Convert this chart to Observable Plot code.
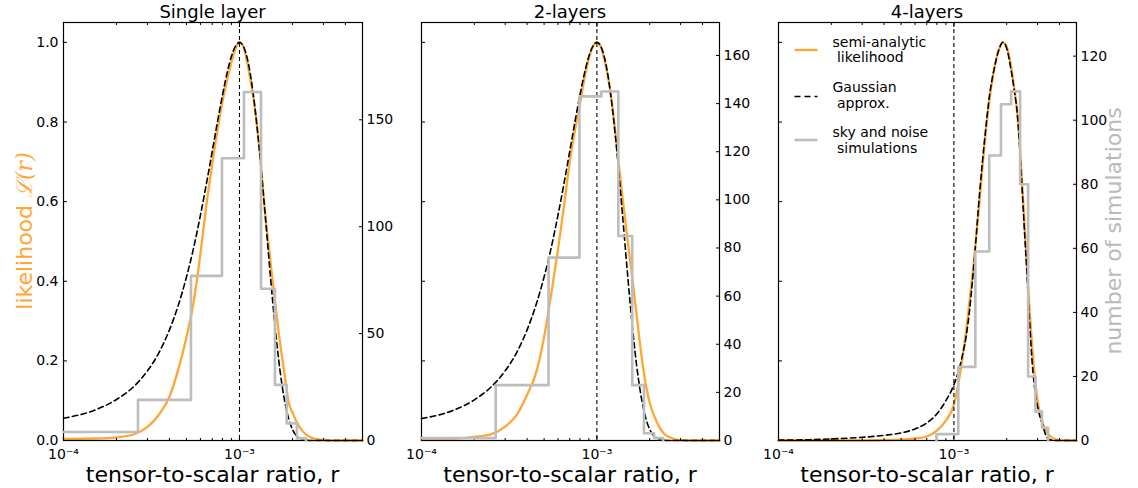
<!DOCTYPE html>
<html><head><meta charset="utf-8">
<script src="https://cdn.jsdelivr.net/npm/d3@7"></script>
<script src="https://cdn.jsdelivr.net/npm/@observablehq/plot@0.6"></script>
<style>
html,body{margin:0;padding:0;background:#fff;}
#chart{position:relative;width:1138px;height:488px;overflow:hidden;font-family:"DejaVu Sans",sans-serif;}
#chart svg{position:absolute;top:0;}
</style></head><body><div id="chart"></div>
<script>
// ---------- data ----------
const titles = ["Single layer", "2-layers", "4-layers"];
const xMajorTicks = [1e-4, 1e-3];
const xMajorLabels = ["10\u207B\u2074", "10\u207B\u00B3"];
const xMinorTicks = [2e-4,3e-4,4e-4,5e-4,6e-4,7e-4,8e-4,9e-4,2e-3,3e-3,4e-3];
const likeTicks = [0, 0.2, 0.4, 0.6, 0.8, 1.0];
const countTicks1 = [0, 50, 100, 150];
const countTicks2 = [0, 20, 40, 60, 80, 100, 120, 140, 160];
const countTicks3 = [0, 20, 40, 60, 80, 100, 120];

// r grid for panels 1 and 2
const rA = [1.0e-4,1.5e-4,2.0e-4,2.5e-4,3.0e-4,3.5e-4,4.0e-4,4.5e-4,5.0e-4,5.5e-4,6.0e-4,6.5e-4,7.0e-4,7.5e-4,8.0e-4,8.5e-4,9.0e-4,9.5e-4,
  1.0e-3,1.05e-3,1.1e-3,1.15e-3,1.2e-3,
  1.3e-3,1.4e-3,1.5e-3,1.6e-3,1.7e-3,1.8e-3,1.9e-3,2.0e-3,
  2.2e-3,2.4e-3,2.6e-3,2.8e-3,3.0e-3,
  3.5e-3,4.0e-3,5.0e-3];
const like1 = [0.004,0.005,0.008,0.015,0.034,0.066,0.11,0.18,0.26,0.35,0.47,0.595,0.695,0.78,0.85,0.905,0.95,0.985,
  1.0,0.99,0.955,0.91,0.86,
  0.73,0.57,0.45,0.34,0.245,0.17,0.097,0.07,
  0.033,0.014,0.006,0.003,0.001,
  0,0,0];
const gauss1 = [0.056,0.076,0.103,0.135,0.175,0.222,0.278,0.341,0.411,0.486,0.566,0.647,0.726,0.801,0.867,0.923,0.965,0.991,
  1.0,0.991,0.965,0.923,0.867,
  0.726,0.566,0.411,0.278,0.175,0.103,0.056,0.028,
  0.006,0.001,0,0,0,
  0,0,0];
const like2 = [0.002,0.004,0.009,0.016,0.035,0.065,0.115,0.17,0.26,0.37,0.48,0.59,0.70,0.78,0.845,0.91,0.96,0.99,
  1.0,0.99,0.96,0.92,0.87,
  0.74,0.61,0.50,0.40,0.30,0.21,0.14,0.095,
  0.045,0.018,0.008,0.003,0.001,
  0,0,0];
const gauss2 = [0.055,0.075,0.102,0.135,0.175,0.222,0.278,0.341,0.411,0.486,0.566,0.647,0.726,0.801,0.867,0.923,0.965,0.991,
  1.0,0.991,0.965,0.923,0.867,
  0.726,0.566,0.411,0.278,0.175,0.103,0.056,0.028,
  0.006,0.001,0,0,0,
  0,0,0];

// r grid for panel 3
const rB = [1.0e-4,1.5e-4,2.0e-4,3.0e-4,4.0e-4,5.0e-4,6.0e-4,7.0e-4,8.0e-4,9.0e-4,
  1.0e-3,1.1e-3,1.2e-3,1.3e-3,1.4e-3,1.5e-3,1.6e-3,1.7e-3,1.8e-3,1.9e-3,
  2.0e-3,2.1e-3,2.2e-3,2.3e-3,2.4e-3,2.5e-3,2.6e-3,2.7e-3,2.8e-3,2.9e-3,
  3.0e-3,3.2e-3,3.4e-3,3.6e-3,3.8e-3,4.0e-3,4.5e-3,5.0e-3];
const like3 = [0,0,0,0,0.001,0.002,0.005,0.01,0.025,0.05,
  0.09,0.185,0.31,0.45,0.60,0.75,0.86,0.935,0.98,1.0,
  0.99,0.95,0.89,0.82,0.71,0.58,0.45,0.33,0.23,0.155,
  0.10,0.045,0.02,0.008,0.003,0.001,0,0];
const gauss3 = [0.001,0.002,0.004,0.008,0.013,0.019,0.029,0.044,0.067,0.10,
  0.14,0.20,0.29,0.44,0.62,0.76,0.87,0.935,0.98,1.0,
  0.985,0.94,0.885,0.82,0.70,0.56,0.43,0.30,0.19,0.125,
  0.085,0.04,0.007,0.001,0,0,0,0];

// histogram bin edges (first edge clipped at the axis start) and counts
const binEdges = [1e-4,2.65e-4,5.30e-4,7.95e-4,1.06e-3,1.325e-3,1.59e-3,1.855e-3,2.12e-3,2.385e-3,2.65e-3,2.915e-3,3.18e-3,3.445e-3,3.71e-3];
const counts1 = [4,19,77,132,163,71,26,8,1,0,0,0,0,0];
const counts2 = [1,23,76,143,145,85,23,3,1,0,0,0,0,0];
const counts3 = [0,0,0,2,23,59,89,105,109,80,20,9,4,0];

// ---------- style ----------
const ORANGE = "#ffa633";
const GRAY = "#bdbdbd";
const H = 488, mT = 22, mB = 48, mL = 63, mR = 60;

const panels = [
  {title: titles[0], r: rA, like: like1, gauss: gauss1, counts: counts1, cMax: 195.5, cTicks: countTicks1, left: 63, w: 299, yLabels: true},
  {title: titles[1], r: rA, like: like2, gauss: gauss2, counts: counts2, cMax: 173.7, cTicks: countTicks2, left: 421, w: 298, yLabels: false},
  {title: titles[2], r: rB, like: like3, gauss: gauss3, counts: counts3, cMax: 130.5, cTicks: countTicks3, left: 778, w: 298, yLabels: false}
];

const chart = document.getElementById("chart");
const svgStyle = {background: "transparent", overflow: "visible", fontFamily: "DejaVu Sans, sans-serif", fontSize: "14px", color: "black"};

function stepRows(counts) {
  let first = counts.findIndex(c => c > 0);
  let last = counts.length - 1; while (counts[last] === 0) last--;
  const rows = [];
  if (first > 0) rows.push({r: binEdges[first], n: 0});
  for (let k = first; k <= last; k++) rows.push({r: binEdges[k], n: counts[k]});
  rows.push({r: binEdges[last + 1], n: counts[last]});
  rows.push({r: binEdges[last + 1], n: 0});
  return rows;
}

panels.forEach(p => {
  const rows = p.r.map((r, i) => ({r, like: p.like[i], gauss: p.gauss[i]}));
  const W = p.w + mL + mR;
  const common = {width: W, height: H, marginLeft: mL, marginRight: mR, marginTop: mT, marginBottom: mB, style: svgStyle};
  const A = Plot.plot({
    ...common,
    x: {type: "log", domain: [1e-4, 5e-3]},
    y: {domain: [0, 1.05]},
    marks: [
      Plot.line(rows, {x: "r", y: "like", stroke: ORANGE, strokeWidth: 2.3, curve: "monotone-x"}),
      Plot.line(rows, {x: "r", y: "gauss", stroke: "black", strokeWidth: 1.6, strokeDasharray: "5.5,3.5", curve: "monotone-x"}),
      Plot.ruleX([1e-3], {stroke: "black", strokeWidth: 1.1, strokeDasharray: "4,3"}),
      Plot.axisY({anchor: "left", ticks: likeTicks, tickSize: -4, tickPadding: 9, tickFormat: p.yLabels ? d3.format(".1f") : () => "", label: null}),
      Plot.axisX({anchor: "bottom", ticks: xMajorTicks, tickSize: -4, tickPadding: 13, tickFormat: d => xMajorLabels[xMajorTicks.indexOf(d)], label: null}),
      Plot.axisX({anchor: "bottom", ticks: xMinorTicks, tickSize: -2, tickFormat: () => "", label: null}),
      Plot.axisX({anchor: "top", ticks: xMajorTicks, tickSize: -4, tickFormat: () => "", label: null}),
      Plot.axisX({anchor: "top", ticks: xMinorTicks, tickSize: -2, tickFormat: () => "", label: null}),
      Plot.frame({stroke: "black", strokeWidth: 1.2})
    ]
  });
  const B = Plot.plot({
    ...common,
    x: {type: "log", domain: [1e-4, 5e-3], axis: null},
    y: {domain: [0, p.cMax]},
    marks: [
      Plot.line(stepRows(p.counts), {x: "r", y: "n", stroke: GRAY, strokeWidth: 2.6, curve: "step-after"}),
      Plot.axisY({anchor: "right", ticks: p.cTicks, tickSize: -4, tickPadding: 8, tickFormat: d3.format("d"), label: null})
    ]
  });
  A.style.left = (p.left - mL) + "px";
  B.style.left = (p.left - mL) + "px";
  chart.appendChild(A);
  chart.appendChild(B);
});

// ---------- titles, axis labels, legend ----------
const ov = d3.create("svg").attr("width", 1138).attr("height", 488)
  .style("left", "0px").style("top", "0px").style("pointer-events", "none")
  .attr("font-family", "DejaVu Sans, sans-serif");
panels.forEach(p => {
  const cx = p.left + p.w / 2;
  ov.append("text").attr("x", cx).attr("y", 18).attr("text-anchor", "middle").attr("font-size", 18).text(p.title);
  ov.append("text").attr("x", cx).attr("y", 482).attr("text-anchor", "middle").attr("font-size", 22).text("tensor-to-scalar ratio, r");
});
const yl = ov.append("text").attr("transform", "translate(32,231) rotate(-90)").attr("text-anchor", "middle")
  .attr("font-size", 22).attr("fill", ORANGE);
yl.append("tspan").text("likelihood ");
yl.append("tspan").attr("font-family", "DejaVu Serif, serif").attr("font-style", "italic").text("\u2112(r)");
ov.append("text").attr("transform", "translate(1121,231) rotate(-90)").attr("text-anchor", "middle")
  .attr("font-size", 22).attr("fill", "#bababa").text("number of simulations");

const legend = [
  {lines: ["semi-analytic", " likelihood"], stroke: ORANGE, dash: null, w: 2.3, y: 50, base: 46.5},
  {lines: ["Gaussian", " approx."], stroke: "black", dash: "6,4", w: 1.6, y: 96.5, base: 91.7},
  {lines: ["sky and noise", " simulations"], stroke: GRAY, dash: null, w: 2.6, y: 140, base: 136.8}
];
legend.forEach(L => {
  ov.append("line").attr("x1", 794.5).attr("x2", 817.5).attr("y1", L.y).attr("y2", L.y)
    .attr("stroke", L.stroke).attr("stroke-width", L.w).attr("stroke-dasharray", L.dash);
  L.lines.forEach((t, i) => {
    ov.append("text").attr("x", 832.5).attr("y", L.base + i * 15.8).attr("font-size", 14)
      .attr("xml:space", "preserve").style("white-space", "pre").text(t);
  });
});
chart.appendChild(ov.node());
</script></body></html>
